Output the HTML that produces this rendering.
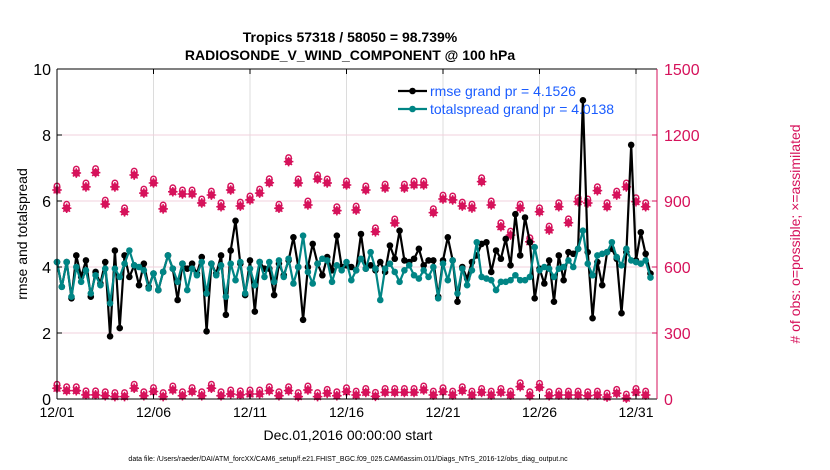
<!DOCTYPE html>
<html><head><meta charset="utf-8"><style>
body{margin:0;background:#fff;}
svg{display:block;font-family:"Liberation Sans",sans-serif;}
</style></head><body>
<svg id="chart" width="830" height="470" viewBox="0 0 830 470" xmlns="http://www.w3.org/2000/svg">
<rect width="830" height="470" fill="#fff"/>
<text x="350" y="42" font-size="14" font-weight="bold" text-anchor="middle">Tropics 57318 / 58050 = 98.739%</text>
<text x="350" y="60" font-size="14" font-weight="bold" text-anchor="middle">RADIOSONDE_V_WIND_COMPONENT @ 100 hPa</text>
<g id="grid"></g>
<g id="marks"></g>
<g id="axes"></g>
<text transform="translate(27,234) rotate(-90)" font-size="14" text-anchor="middle">rmse and totalspread</text>
<text transform="translate(800,234) rotate(-90)" font-size="14" text-anchor="middle" fill="#d6125b"># of obs: o=possible; ×=assimilated</text>
<text x="348" y="440" font-size="14" text-anchor="middle">Dec.01,2016 00:00:00 start</text>
<text x="348" y="461" font-size="7" text-anchor="middle">data file: /Users/raeder/DAI/ATM_forcXX/CAM6_setup/f.e21.FHIST_BGC.f09_025.CAM6assim.011/Diags_NTrS_2016-12/obs_diag_output.nc</text>
<g id="legend"></g>
</svg>
<script>
const rmse=[4.15,3.4,4.15,3.05,4.35,3.7,4.2,3.1,3.85,3.5,4.15,1.9,4.5,2.15,4.35,3.7,4.05,3.45,4.1,3.4,
3.8,3.3,3.85,4.35,3.95,3.0,4.1,3.95,4.1,3.8,4.3,2.05,4.1,3.8,4.35,2.55,4.5,5.4,4.1,3.15,4.2,2.65,4.15,3.95,3.95,3.15,4.1,3.75,4.2,4.9,4.0,2.4,4.0,4.7,4.1,3.75,4.3,3.9,4.95,
4.0,4.05,
4.0,3.9,5.0,3.95,4.05,3.9,4.15,3.85,4.65,4.25,5.1,4.2,4.15,4.25,4.55,4.05,4.2,4.2,3.1,4.2,4.9,4.2,2.95,4.0,3.65,4.15,4.35,4.7,4.75,3.85,
4.5,4.25,4.85,4.05,5.6,4.35,5.5,4.75,3.05,3.95,3.5,4.2,2.95,4.35,3.6,4.45,4.4,4.55,9.05,4.45,2.45,4.15,3.45,4.45,4.55,4.25,2.6,4.45,7.7,4.2,5.05,4.4,3.8];
const spread=[4.15,3.4,4.15,3.1,4.0,3.55,3.9,3.2,3.75,3.45,3.95,2.9,3.95,3.7,4.1,4.5,4.05,4.0,3.9,3.35,
3.8,3.3,3.85,4.35,3.95,3.55,4.1,3.3,3.95,3.75,4.15,3.2,4.1,3.75,4.05,3.1,4.1,3.6,4.15,3.2,3.95,3.45,4.15,3.7,4.15,3.55,4.2,3.7,4.25,3.5,4.0,4.95,3.85,3.5,4.1,4.25,4.2,3.55,4.05,
3.9,4.15,
3.6,3.9,4.25,3.95,4.45,3.95,3.0,3.95,4.1,3.85,3.55,3.9,4.05,3.75,3.65,3.9,3.7,4.0,3.05,4.1,3.6,4.2,3.2,3.95,3.45,3.9,4.75,3.7,3.65,3.6,
3.3,3.55,3.55,3.6,3.75,3.6,3.6,3.7,4.6,3.9,4.0,3.95,3.7,3.95,4.0,4.2,4.0,4.55,5.1,4.1,3.75,4.35,4.4,4.45,
4.75,4.3,4.05,4.55,4.2,4.15,4.1,4.2,3.68];
const obsUpper=[950,867,1027,964,1029,886,964,851,1018,936,982,864,942,932,932,891,927,874,950,877,905,936,983,867,1079,982,882,1000,982,856,
973,859,950,760,959,800,959,973,973,847,909,905,877,868,988,882,783,745,868,715,851,768,874,801,897,891,947,874,927,964,897,874];
const obsLower=[49,38,38,19,19,15,11,11,49,15,34,11,41,15,34,15,49,15,23,19,23,23,38,15,38,11,41,11,26,15,
33,18,30,12,30,30,30,30,41,18,33,18,38,18,30,18,30,18,56,15,53,15,18,18,18,15,18,9,26,4,30,18];
const xTickDays=[0,5,10,15,20,25,30];
const xTickLabels=["12/01","12/06","12/11","12/16","12/21","12/26","12/31"];
const yTicks=[0,2,4,6,8,10];
const y2Ticks=[0,300,600,900,1200,1500];

const NS="http://www.w3.org/2000/svg";
const L=57,R=657,T=69,B=399;
const dayW=(636-57)/30;
const xDay=d=>L+d*dayW;
const yL=v=>B-(v/10)*(B-T);
const yR=v=>B-(v/1500)*(B-T);
const CR="#d6125b",TEAL="#008585";
function mk(tag,attrs,parent){const e=document.createElementNS(NS,tag);for(const k in attrs)e.setAttribute(k,attrs[k]);parent.appendChild(e);return e;}
const grid=document.getElementById('grid'),marks=document.getElementById('marks'),axes=document.getElementById('axes'),legend=document.getElementById('legend');

xTickDays.forEach((d,i)=>{
 const g=mk('line',{x1:xDay(d),x2:xDay(d),y1:T,y2:B,stroke:'#dcdcdc','stroke-width':1},grid);
 
 
 const t=mk('text',{x:xDay(d),y:417,'font-size':14,'text-anchor':'middle'},axes);
 t.textContent=xTickLabels[i];
 
 
 mk('line',{x1:xDay(d),x2:xDay(d),y1:B,y2:B-5,stroke:'#000'},axes);
 mk('line',{x1:xDay(d),x2:xDay(d),y1:T,y2:T+5,stroke:'#000'},axes);
});
yTicks.forEach(v=>{
 if(v>0&&v<10){const g=mk('line',{x1:L,x2:R,y1:yL(v),y2:yL(v),stroke:'#f2d0dc','stroke-width':1},grid);
 
 }
 const t=mk('text',{x:51,y:yL(v)+6,'font-size':16,'text-anchor':'end'},axes);
 t.textContent=v;
 
 
 mk('line',{x1:L,x2:L+5,y1:yL(v),y2:yL(v),stroke:'#000'},axes);
});
y2Ticks.forEach(v=>{
 const t=mk('text',{x:664,y:yR(v)+6,'font-size':16,fill:CR},axes);
 t.textContent=v;
 
 
 mk('line',{x1:R-5,x2:R,y1:yR(v),y2:yR(v),stroke:CR},axes);
});
mk('line',{x1:L,x2:R,y1:T,y2:T,stroke:'#000'},axes);
mk('line',{x1:L,x2:R,y1:B,y2:B,stroke:'#000'},axes);
mk('line',{x1:L,x2:L,y1:T,y2:B,stroke:'#000'},axes);
mk('line',{x1:R,x2:R,y1:T,y2:B,stroke:CR},axes);

function obsMarker(i,v,name){
 const x=xDay(i*0.5),y=yR(v);
 const g=mk('g',{},marks);
 
 
 mk('circle',{cx:x,cy:y-4,r:2.7,fill:'none',stroke:CR,'stroke-width':1.5},g);
 mk('circle',{cx:x,cy:y,r:3.7,fill:CR},g);
 mk('path',{d:`M${x-4.8} ${y}H${x+4.8}M${x} ${y-4.8}V${y+4.8}M${x-3.4} ${y-3.4}L${x+3.4} ${y+3.4}M${x-3.4} ${y+3.4}L${x+3.4} ${y-3.4}`,stroke:CR,'stroke-width':1.5},g);
}
obsUpper.forEach((v,i)=>obsMarker(i,v,'obs-count-marker'));
obsLower.forEach((v,i)=>obsMarker(i,v,'obs-count-marker-low'));

function series(arr,color,name){
 const pts=arr.map((v,i)=>`${xDay(i*0.25).toFixed(1)},${yL(v).toFixed(1)}`).join(' ');
 const pl=mk('polyline',{points:pts,fill:'none',stroke:color,'stroke-width':2.2,'stroke-linejoin':'round'},marks);
 
 
 arr.forEach((v,i)=>{const c=mk('circle',{cx:xDay(i*0.25),cy:yL(v),r:3.3,fill:color},marks);
 
 });
}
series(rmse,'#000','rmse');
series(spread,TEAL,'totalspread');

[['#000','rmse grand pr = 4.1526',91,'legend-entry-rmse'],[TEAL,'totalspread grand pr = 4.0138',109,'legend-entry-totalspread']].forEach(e=>{
 const g=mk('g',{},legend);
 
 
 mk('line',{x1:398,x2:427,y1:e[2],y2:e[2],stroke:e[0],'stroke-width':2.2},g);
 mk('circle',{cx:412.5,cy:e[2],r:3.3,fill:e[0]},g);
 const t=mk('text',{x:430,y:e[2]+5,'font-size':14,fill:'#1a5cff'},g);
 t.textContent=e[1];
});
</script>
</body></html>
